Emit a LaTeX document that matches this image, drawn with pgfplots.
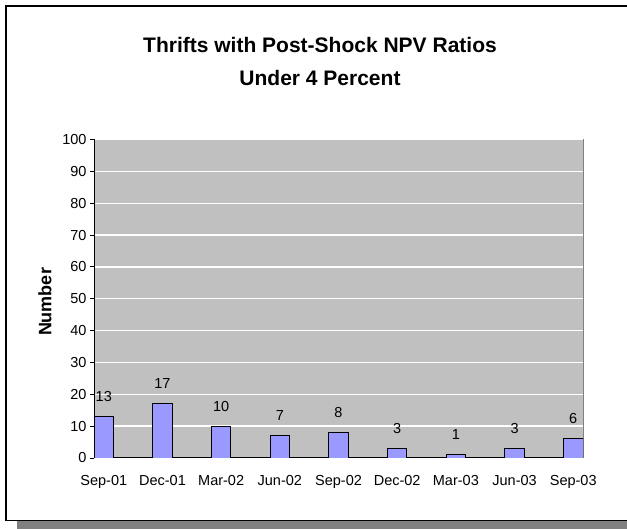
\documentclass[border=0pt]{standalone}
\usepackage{pgfplots}
\pgfplotsset{compat=1.18}
\usepackage{fontspec}
\setmainfont{Liberation Sans}
\definecolor{barblue}{HTML}{9999FF}
\definecolor{plotbg}{HTML}{C0C0C0}
\definecolor{shadow}{HTML}{808080}
\begin{document}
\begin{tikzpicture}
\useasboundingbox (0pt,0pt) rectangle (627pt,529pt);
\clip (0pt,0pt) rectangle (627pt,529pt);
% shadow and frame
\fill[shadow] (17pt,0pt) rectangle (640pt,8.5pt);
\draw[black,line width=1.2pt] (640pt,523pt) -- (6pt,523pt) -- (6pt,8.8pt) -- (640pt,8.8pt);
% title
\node[anchor=base,font=\fontsize{21}{25}\selectfont\bfseries] at (320pt,476.5pt) {Thrifts with Post-Shock NPV Ratios};
\node[anchor=base,font=\fontsize{21}{25}\selectfont\bfseries] at (320pt,443pt) {Under 4 Percent};
\node[rotate=90,font=\fontsize{18}{21}\selectfont\bfseries] at (45pt,227pt) {Number};
\begin{axis}[
  at={(94pt,71pt)}, anchor=south west,
  scale only axis, width=489pt, height=318.5pt,
  xmin=-0.16667, xmax=8.16667, ymin=0, ymax=100,
  axis background/.style={fill=plotbg, draw=shadow, line width=1pt},
  axis x line*=bottom, axis y line*=left,
  axis line style={-, black, line width=1pt},
  /pgf/number format/assume math mode=true,
  ytick={0,10,...,100},
  ymajorgrids, major grid style={white, line width=1.3pt},
  tick align=outside, major tick length=4pt,
  tick style={black, line width=0.8pt},
  xtick={0,1,2,3,4,5,6,7,8},
  xticklabels={Sep-01,Dec-01,Mar-02,Jun-02,Sep-02,Dec-02,Mar-03,Jun-03,Sep-03},
  xtick style={draw=none},
  extra x ticks={-0.16667,0.83333,1.83333,2.83333,3.83333,4.83333,5.83333,6.83333,7.83333},
  extra x tick labels={},
  extra x tick style={tick style={black, line width=0.8pt}, major tick length=4pt, tick align=outside},
  ticklabel style={font=\fontsize{14.5}{17}\selectfont},
  xticklabel style={yshift=-10pt},
  ybar, bar width=19.5pt,
  nodes near coords,
  every node near coord/.append style={font=\fontsize{14.5}{17}\selectfont, anchor=base, yshift=15pt, inner sep=0pt},
]
\addplot[fill=barblue, draw=black, line width=0.9pt] coordinates {
(0,13) (1,17) (2,10) (3,7) (4,8) (5,3) (6,1) (7,3) (8,6)};
\end{axis}
\end{tikzpicture}
\end{document}
